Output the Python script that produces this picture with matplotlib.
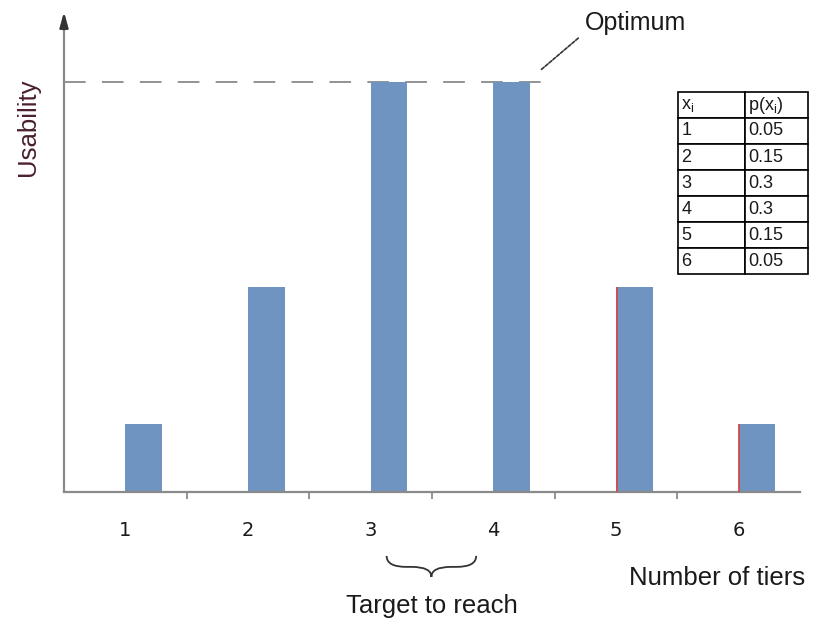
import matplotlib
matplotlib.use("Agg")
import matplotlib.pyplot as plt
from matplotlib.path import Path
from matplotlib.patches import PathPatch
import matplotlib.transforms as mtransforms
import numpy as np

plt.rcParams['font.family'] = ['Liberation Sans', 'DejaVu Sans']
plt.rcParams['mathtext.fontset'] = 'custom'
plt.rcParams['mathtext.rm'] = 'Liberation Sans'

# ---- data ----
tiers = [1, 2, 3, 4, 5, 6]
probabilities = [0.05, 0.15, 0.3, 0.3, 0.15, 0.05]
tick_labels = ['1', '2', '3', '4', '5', '6']
optimum_value = 0.3
target_tiers = [3, 4]
red_edge_tiers = [5, 6]
table_header = [r'x$_\mathrm{i}$', r'p(x$_\mathrm{i}$)']
table_x = ['1', '2', '3', '4', '5', '6']
table_p = ['0.05', '0.15', '0.3', '0.3', '0.15', '0.05']

W, H = 821, 622
fig = plt.figure(figsize=(W / 100, H / 100), dpi=100)
ax = fig.add_axes([64 / W, (H - 492) / H, (800 - 64) / W, (492 - 15) / H])

bar_color = '#7094C1'
axis_color = '#8a8a8a'
text_color = '#1a1a1a'
bar_w = 0.3
x = np.array(tiers, dtype=float)
ax.bar(x + bar_w / 2, probabilities, width=bar_w, color=bar_color, edgecolor='none', zorder=2)

# red left edges artifact
for t in red_edge_tiers:
    i = tiers.index(t)
    ax.vlines(x[i] + 0.005, 0, probabilities[i], color='#d24a4a', lw=1.3, zorder=3)

ax.set_xlim(0.5, 6.5)
ax.set_ylim(0, 0.349)

for s in ['top', 'right']:
    ax.spines[s].set_visible(False)
ax.spines['left'].set_visible(False)
ax.spines['bottom'].set_color(axis_color)
ax.spines['bottom'].set_linewidth(1.6)

ax.set_yticks([])
ax.set_xticks(tiers)
ax.set_xticklabels(tick_labels, family='DejaVu Sans', fontsize=14, color=text_color)
ax.tick_params(axis='x', which='major', length=0, pad=21)
ax.set_xticks([t + 0.5 for t in tiers[:-1]], minor=True)
ax.tick_params(axis='x', which='minor', length=5, width=1.3, color=axis_color, direction='out')

# y axis with arrow
ax.annotate('', xy=(0.5, 1.006), xytext=(0.5, 0), xycoords=ax.get_xaxis_transform(),
            textcoords=ax.get_xaxis_transform(),
            arrowprops=dict(arrowstyle='-|>,head_length=0.9,head_width=0.25', color=axis_color,
                            lw=1.6, shrinkA=0, shrinkB=0), annotation_clip=False)
ax.annotate('', xy=(0.5, 1.006), xytext=(0.5, 0.97), xycoords=ax.get_xaxis_transform(),
            textcoords=ax.get_xaxis_transform(),
            arrowprops=dict(arrowstyle='-|>,head_length=0.9,head_width=0.25', color='#333333',
                            lw=1.6, shrinkA=0, shrinkB=0), annotation_clip=False)

# optimum dashed line
ax.hlines(optimum_value, 0.5, 4.51, color=axis_color, lw=1.3, linestyles=(0, (12, 9)), zorder=1)
ax.annotate('Optimum', xy=(4.39, 0.309), xytext=(4.75, 0.3435), fontsize=18, color=text_color,
            va='center', ha='left',
            arrowprops=dict(arrowstyle='-', color='#333333', lw=1.2, linestyle=(0, (2, 1)),
                            relpos=(0, 0.1), shrinkA=4, shrinkB=0), annotation_clip=False)

# brace under target tiers
trans = mtransforms.blended_transform_factory(ax.transData, ax.transAxes)
x0 = target_tiers[0] + 0.13
x1 = target_tiers[1] - 0.14
xc = (x0 + x1) / 2
yt, ym, yb = -0.134, -0.157, -0.178
q = 0.16
verts = [(x0, yt), (x0, ym), (x0 + q, ym), (xc - q, ym), (xc, ym), (xc, yb),
         (xc, ym), (xc + q, ym), (x1 - q, ym), (x1, ym), (x1, yt)]
codes = [Path.MOVETO, Path.CURVE3, Path.CURVE3, Path.LINETO, Path.CURVE3, Path.CURVE3,
         Path.CURVE3, Path.CURVE3, Path.LINETO, Path.CURVE3, Path.CURVE3]
ax.add_patch(PathPatch(Path(verts, codes), transform=trans, fill=False, color='#333333',
                       lw=1.3, clip_on=False))

fig.text(432 / W, 1 - 606 / H, 'Target to reach', fontsize=18.5, ha='center', va='center', color=text_color)
fig.text(717 / W, 1 - 578 / H, 'Number of tiers', fontsize=18.5, ha='center', va='center', color=text_color)
fig.text(28 / W, 1 - 127 / H, 'Usability', fontsize=18.5, ha='center', va='center', rotation=90,
         color='#4a2030')

# table
cells = [[a, b] for a, b in zip(table_x, table_p)]
tb = ax.table(cellText=cells, colLabels=table_header, cellLoc='left', colLoc='left',
              colWidths=[0.515, 0.485],
              bbox=[(678 - 64) / 736, (492 - 274) / 477, 130 / 736, 182 / 477])
tb.auto_set_font_size(False)
for (r, c), cell in tb.get_celld().items():
    cell.set_edgecolor('black')
    cell.set_linewidth(1.2)
    cell.set_facecolor('white')
    cell.get_text().set_fontsize(13)
    cell.get_text().set_color(text_color)
    cell.PAD = 0.05

fig.savefig('out.png', dpi=100)
